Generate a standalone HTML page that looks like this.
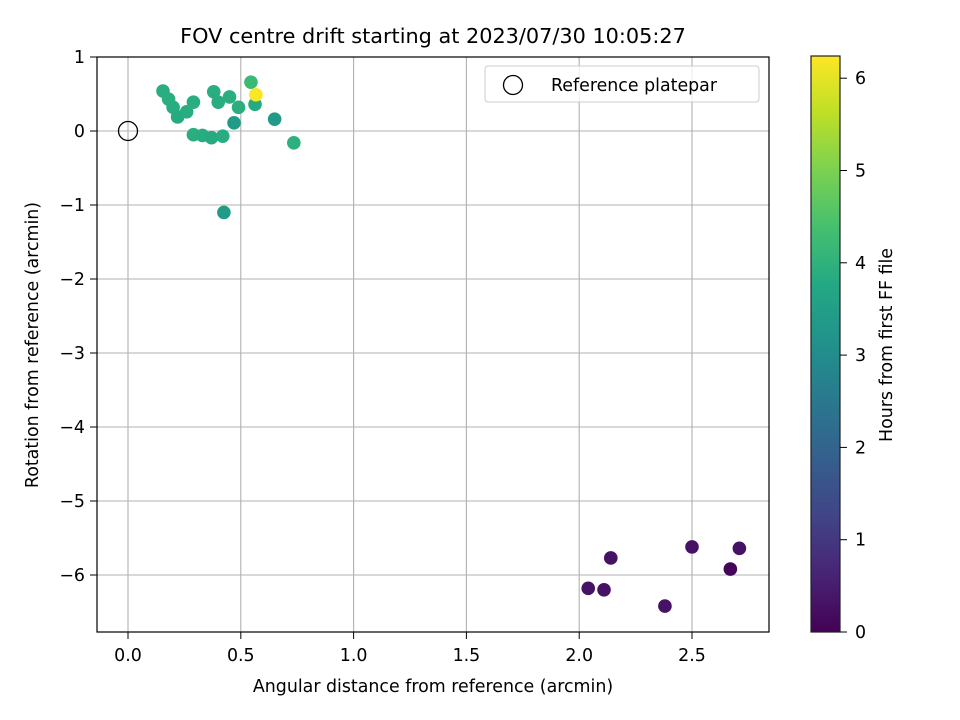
<!DOCTYPE html>
<html><head><meta charset="utf-8"><style>
html,body{margin:0;padding:0;background:#fff;width:960px;height:720px;overflow:hidden}
svg{font-family:"DejaVu Sans","Liberation Sans",sans-serif}
</style></head><body>
<svg id="chart" width="960" height="720" xmlns="http://www.w3.org/2000/svg">
<defs><linearGradient id="vir" x1="0" y1="1" x2="0" y2="0">
<stop offset="0" stop-color="#440154"/><stop offset="0.1" stop-color="#482475"/><stop offset="0.2" stop-color="#414487"/><stop offset="0.3" stop-color="#355f8d"/><stop offset="0.4" stop-color="#2a788e"/><stop offset="0.5" stop-color="#21918c"/><stop offset="0.6" stop-color="#22a884"/><stop offset="0.7" stop-color="#44bf70"/><stop offset="0.8" stop-color="#7ad151"/><stop offset="0.9" stop-color="#bddf26"/><stop offset="1" stop-color="#fde725"/>
</linearGradient></defs>
<g id="grid"></g>
<g id="pts"></g>
<circle cx="128" cy="131" r="9.5" fill="none" stroke="#000" stroke-width="1.3"/>
<rect x="97" y="57" width="672" height="575" fill="none" stroke="#000" stroke-width="1.2"/>
<g id="ticks"></g>
<text x="433" y="43" font-size="20.8" text-anchor="middle">FOV centre drift starting at 2023/07/30 10:05:27</text>
<text x="433" y="692" font-size="17.4" text-anchor="middle">Angular distance from reference (arcmin)</text>
<text transform="translate(38,345) rotate(-90)" font-size="17.4" text-anchor="middle">Rotation from reference (arcmin)</text>
<g>
<rect x="485" y="66" width="274" height="36" rx="3" fill="#fff" fill-opacity="0.8" stroke="#ccc"/>
<circle cx="513" cy="85" r="9.5" fill="none" stroke="#000" stroke-width="1.3"/>
<text x="551" y="91" font-size="17.4">Reference platepar</text>
</g>
<rect x="811" y="56" width="29" height="576" fill="url(#vir)" stroke="#222" stroke-width="1.2"/>
<g id="cbticks"></g>
<text transform="translate(892,345) rotate(-90)" font-size="17.4" text-anchor="middle">Hours from first FF file</text>
</svg>
<script>
const xs=[0.155,0.18,0.20,0.22,0.26,0.29,0.38,0.40,0.45,0.49,0.47,0.545,0.563,0.65,0.735,0.29,0.33,0.37,0.42,0.425,2.04,2.11,2.14,2.38,2.50,2.67,2.71,0.567];
const ys=[0.54,0.43,0.32,0.19,0.26,0.39,0.53,0.39,0.46,0.32,0.11,0.66,0.36,0.16,-0.16,-0.05,-0.06,-0.09,-0.07,-1.1,-6.18,-6.2,-5.77,-6.42,-5.62,-5.92,-5.64,0.49];
const hours=[3.9,3.9,3.85,3.8,3.85,3.9,3.9,3.85,3.9,3.9,3.4,4.2,3.8,3.4,3.95,3.9,3.85,3.8,3.85,3.4,0.3,0.3,0.3,0.3,0.3,0.05,0.3,6.2];
const xTicks=[0,0.5,1,1.5,2,2.5];
const xTickLabels=["0.0","0.5","1.0","1.5","2.0","2.5"];
const yTicks=[1,0,-1,-2,-3,-4,-5,-6];
const yTickLabels=["1","0","\u22121","\u22122","\u22123","\u22124","\u22125","\u22126"];
const cTicks=[0,1,2,3,4,5,6];
const X=v=>128+v*225.6, Y=v=>131-v*74, C=v=>632-v*92.3;
const vir=["#440154","#482475","#414487","#355f8d","#2a788e","#21918c","#22a884","#44bf70","#7ad151","#bddf26","#fde725"];
function col(h){let t=Math.max(0,Math.min(1,h/6.24))*10;let i=Math.min(9,Math.floor(t)),f=t-i;
 const a=vir[i],b=vir[i+1];const p=(s,k)=>parseInt(s.substr(k,2),16);
 let r=[1,3,5].map(k=>Math.round(p(a,k)*(1-f)+p(b,k)*f));return `rgb(${r})`;}
const NS="http://www.w3.org/2000/svg";
function mk(par,tag,at){const e=document.createElementNS(NS,tag);for(const k in at)e.setAttribute(k,at[k]);document.getElementById(par).appendChild(e);return e;}
xTicks.forEach((v,i)=>{
 const g=mk("grid","line",{x1:X(v),x2:X(v),y1:57,y2:632,stroke:"#b0b0b0","stroke-width":1.1});
 
 
 const t=mk("ticks","line",{x1:X(v),x2:X(v),y1:632,y2:639,stroke:"#000"});
 
 
 const l=mk("ticks","text",{x:X(v),y:661,"font-size":17.4,"text-anchor":"middle"});l.textContent=xTickLabels[i];
 
 
});
yTicks.forEach((v,i)=>{
 const g=mk("grid","line",{x1:97,x2:769,y1:Y(v),y2:Y(v),stroke:"#b0b0b0","stroke-width":1.1});
 
 
 const t=mk("ticks","line",{x1:90,x2:97,y1:Y(v),y2:Y(v),stroke:"#000"});
 
 
 const l=mk("ticks","text",{x:85,y:Y(v)+6,"font-size":17.4,"text-anchor":"end"});l.textContent=yTickLabels[i];
 
 
});
cTicks.forEach(v=>{
 const t=mk("cbticks","line",{x1:840,x2:847,y1:C(v),y2:C(v),stroke:"#000"});
 
 
 const l=mk("cbticks","text",{x:855,y:C(v)+6,"font-size":17.4});l.textContent=String(v);
 
 
});
xs.forEach((v,i)=>{
 const c=mk("pts","circle",{cx:X(v),cy:Y(ys[i]),r:6.8,fill:col(hours[i])});
 
 
});
</script>
</body></html>
